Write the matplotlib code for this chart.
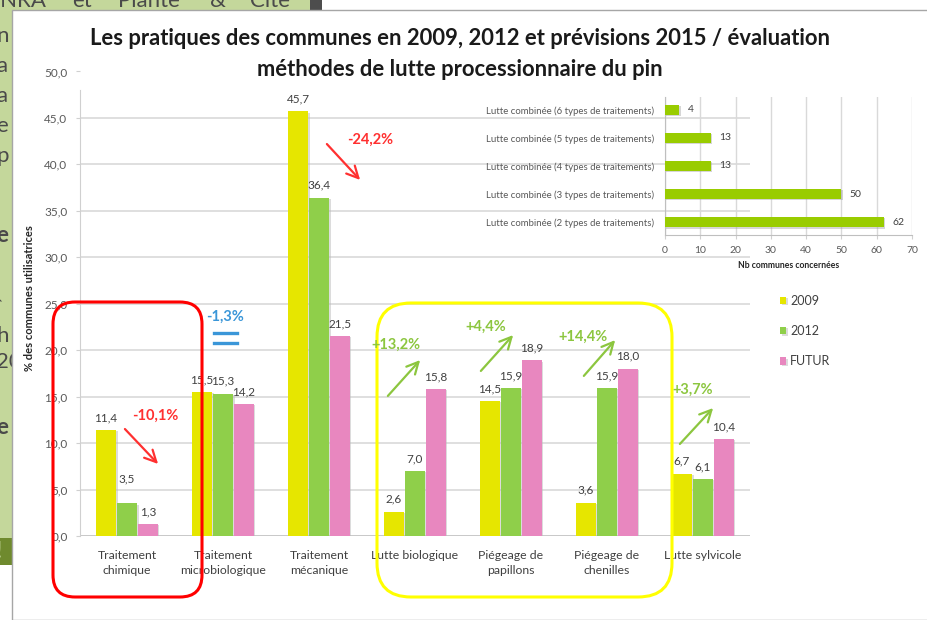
import matplotlib
matplotlib.use('Agg')
import matplotlib.pyplot as plt
import matplotlib.patheffects as pe
from matplotlib.patches import Rectangle, FancyBboxPatch, FancyArrowPatch
from matplotlib.lines import Line2D
from matplotlib.ticker import FuncFormatter

# ── Data ─────────────────────────────────────────────────────────────────────
CATEGORIES = ["Traitement\nchimique", "Traitement\nmicrobiologique",
              "Traitement\nmécanique", "Lutte biologique",
              "Piégeage de\npapillons", "Piégeage de\nchenilles",
              "Lutte sylvicole"]
VAL_2009 = [11.4, 15.5, 45.7, 2.6, 14.5, 3.6, 6.7]
VAL_2012 = [3.5, 15.3, 36.4, 7.0, 15.9, 15.9, 6.1]
VAL_FUTUR = [1.3, 14.2, 21.5, 15.8, 18.9, 18.0, 10.4]
SERIES = ["2009", "2012", "FUTUR"]

COMB_LABELS = ["Lutte combinée (2 types de traitements)",
               "Lutte combinée (3 types de traitements)",
               "Lutte combinée (4 types de traitements)",
               "Lutte combinée (5 types de traitements)",
               "Lutte combinée (6 types de traitements)"]
COMB_VALUES = [62, 50, 13, 13, 4]

# evolution notes: text, colour, text pos, arrow start, arrow end (pixels)
NOTES = [
    ("-10,1%", "#FF3030", (155, 416), (123, 427), (160, 466)),
    ("-24,2%", "#FF3030", (370, 140), (325, 142), (362, 182)),
    ("+13,2%", "#8CC63F", (396, 345), (386, 398), (422, 358)),
    ("+4,4%", "#8CC63F", (486, 327), (479, 373), (515, 333)),
    ("+14,4%", "#8CC63F", (583, 337), (582, 378), (617, 338)),
    ("+3,7%", "#8CC63F", (693, 390), (678, 446), (715, 406)),
]
# ─────────────────────────────────────────────────────────────────────────────

W, H = 928, 620
COLORS = ["#E6E600", "#8FCF4A", "#E887BF"]
FONT = "Lato"
GREY_TXT = "#404040"


def fx(x):
    return x / W


def fy(y):
    return 1 - y / H


def comma(v, _=None):
    return f"{v:.1f}".replace(".", ",")


fig = plt.figure(figsize=(W / 100, H / 100), dpi=100)
fig.patch.set_facecolor("white")
inch = fig.dpi_scale_trans

# background of the screenshot (slide behind the chart)
fig.add_artist(Rectangle((0, (H - 538) / 100), 12 / 100, 538 / 100, transform=inch,
                         facecolor="#C4D79B", edgecolor="none", zorder=-3))
fig.add_artist(Rectangle((0, (H - 565) / 100), 12 / 100, 27 / 100, transform=inch,
                         facecolor="#6F8A2E", edgecolor="none", zorder=-2.5))
fig.add_artist(Rectangle((0, (H - 10) / 100), 310 / 100, 10 / 100, transform=inch,
                         facecolor="#C4D79B", edgecolor="none", zorder=-3))
fig.add_artist(Rectangle((310 / 100, (H - 10) / 100), 12 / 100, 10 / 100, transform=inch,
                         facecolor="#4D4D4D", edgecolor="none", zorder=-3))
for word, x in [("INRA", -6), ("et", 72), ("Plante", 118), ("&", 210), ("Cite", 250)]:
    fig.text(fx(x), fy(7), word, fontsize=16, color="#4A4A4A", family=FONT,
             va="baseline", zorder=-2)
for frag, y, bold in [("n", 36, False), ("a", 66, False), ("a", 96, False),
                      ("e", 126, False), ("p", 156, False), ("e", 236, True),
                      ("î", 308, False), ("h", 336, False), ("20", 362, False),
                      ("e", 428, True), ("!", 552, True)]:
    fig.text(fx(-4), fy(y), frag, fontsize=16, family=FONT,
             color="#C4D79B" if frag == "!" else "#4A4A4A",
             fontweight="bold" if bold else "normal", va="center", zorder=-2)
fig.add_artist(Rectangle((12 / 100, 0), (W - 12) / 100, (H - 10) / 100, transform=inch,
                         facecolor="white", edgecolor="#A6A6A6", lw=1, zorder=-1))

# title
fig.text(fx(460), fy(54),
         "Les pratiques des communes en 2009, 2012 et prévisions 2015 / évaluation\n"
         "méthodes de lutte processionnaire du pin",
         ha="center", va="center", fontsize=15.8, fontweight="bold",
         family=FONT, color="#1A1A1A", linespacing=1.6)

# ── main bar chart ───────────────────────────────────────────────────────────
ax = fig.add_axes([fx(80), fy(536), fx(750) - fx(80), fy(71.5) - fy(536)])
ax.set_facecolor("none")
x = list(range(len(CATEGORIES)))
bw, off = 0.205, 0.218
shadow = [pe.SimplePatchShadow(offset=(1.2, -0.8), shadow_rgbFace="#BBBBBB", alpha=0.5),
          pe.Normal()]
for i, (vals, col, name) in enumerate(zip([VAL_2009, VAL_2012, VAL_FUTUR], COLORS, SERIES)):
    bars = ax.bar([xi + (i - 1) * off for xi in x], vals, width=bw, color=col,
                  label=name, zorder=3)
    for b in bars:
        b.set_path_effects(shadow)
    for b, v in zip(bars, vals):
        pad = 14 if (i == 1 and v == 3.5) else 5
        ax.annotate(comma(v), (b.get_x() + b.get_width() / 2, b.get_height()),
                    xytext=(0, pad), textcoords="offset points", ha="center",
                    va="bottom", fontsize=8.5, color=GREY_TXT, family=FONT, zorder=4)

ax.set_xlim(-0.49, len(CATEGORIES) - 0.51)
ax.set_ylim(0, 50)
ax.set_yticks(range(0, 51, 5))
ax.yaxis.set_major_formatter(FuncFormatter(comma))
for yv in range(5, 50, 5):
    ax.axhline(yv, color="#D9D9D9", lw=1.2, zorder=1)
ax.axhline(0, color="#BFBFBF", lw=1.2, zorder=2)
for s in ["top", "right", "bottom"]:
    ax.spines[s].set_visible(False)
ax.spines["left"].set_color("#D0D0D0")
ax.spines["left"].set_bounds(0, 48)
ax.tick_params(axis="y", length=3, color="#D0D0D0", pad=6, labelsize=8.5,
               labelcolor="#595959")
ax.set_xticks(x)
ax.set_xticklabels(CATEGORIES, fontsize=8.8, color=GREY_TXT, family=FONT,
                   linespacing=1.5)
ax.tick_params(axis="x", length=0, pad=10)
for t in ax.get_yticklabels():
    t.set_family(FONT)

fig.text(fx(30), fy(298), "% des communes utilisatrices", rotation=90,
         ha="center", va="center", fontsize=8, fontweight="bold",
         family=FONT, color="#262626")

handles, labels = ax.get_legend_handles_labels()
fig.legend(handles, labels, loc="upper left", bbox_to_anchor=(fx(769), fy(284)),
           frameon=False, handlelength=0.5, handleheight=0.5,
           handletextpad=0.3, labelspacing=1.45,
           prop={"family": FONT, "size": 9}, labelcolor=GREY_TXT)

# ── inset: combined treatments ───────────────────────────────────────────────
ins = fig.add_axes([fx(665), fy(235), fx(912) - fx(665), fy(97) - fy(235)])
ins.set_facecolor("none")
ypos = list(range(len(COMB_LABELS)))
hb = ins.barh(ypos, COMB_VALUES, height=0.36, color="#99CC00", zorder=3)
for b in hb:
    b.set_path_effects([pe.SimplePatchShadow(offset=(1, -1), shadow_rgbFace="#999999",
                                             alpha=0.4), pe.Normal()])
for b, v in zip(hb, COMB_VALUES):
    ins.annotate(str(v), (b.get_width(), b.get_y() + b.get_height() / 2),
                 xytext=(6, 0), textcoords="offset points", va="center",
                 fontsize=7.5, color=GREY_TXT, family=FONT)
ins.set_xlim(0, 70)
ins.set_ylim(-0.46, len(COMB_LABELS) - 0.54)
ins.set_xticks(range(0, 71, 10))
ins.set_yticks(ypos)
ins.set_yticklabels(COMB_LABELS, fontsize=6.9, color="#595959", family=FONT)
ins.tick_params(axis="y", length=0, pad=8)
ins.tick_params(axis="x", length=3, color="#D0D0D0", labelsize=7.5,
                labelcolor="#595959", pad=5)
for t in ins.get_xticklabels():
    t.set_family(FONT)
ins.grid(axis="x", color="#D9D9D9", lw=1, zorder=0)
for s in ["top", "right"]:
    ins.spines[s].set_visible(False)
ins.spines["left"].set_color("#BFBFBF")
ins.spines["bottom"].set_color("#BFBFBF")
ins.set_xlabel("Nb communes concernées", fontsize=6.2, fontweight="bold",
               family=FONT, color="#262626", labelpad=4)

# ── highlight boxes and evolution arrows ─────────────────────────────────────
for (x0, y0, x1, y1, r, col) in [(53, 302, 202, 597, 22, "#FF0000"),
                                 (377, 303, 672, 597, 34, "#FFFF00")]:
    fig.add_artist(FancyBboxPatch((x0 / 100, (H - y1) / 100), (x1 - x0) / 100,
                                  (y1 - y0) / 100, transform=inch,
                                  boxstyle=f"round,pad=0,rounding_size={r / 100}",
                                  facecolor="none", edgecolor=col, lw=2.2, zorder=6))

for text, col, (tx, ty), (ax0, ay0), (ax1, ay1) in NOTES:
    fig.text(fx(tx), fy(ty), text, color=col, fontsize=10.5, fontweight="bold",
             family=FONT, ha="center", va="center", zorder=7)
    fig.add_artist(FancyArrowPatch((fx(ax0), fy(ay0)), (fx(ax1), fy(ay1)),
                                   transform=fig.transFigure,
                                   arrowstyle="->,head_length=0.7,head_width=0.35",
                                   mutation_scale=12, color=col, lw=1.6, zorder=7))

# "-1,3%" with an equals sign (stable)
fig.text(fx(225), fy(317), "-1,3%", color="#3A96D8", fontsize=10.5,
         fontweight="bold", family=FONT, ha="center", va="center", zorder=7)
for yy in (333, 343):
    fig.add_artist(Line2D([fx(214), fx(237)], [fy(yy), fy(yy)], color="#3A96D8",
                          lw=2.4, transform=fig.transFigure, zorder=7))

fig.savefig("out.png", dpi=100)
